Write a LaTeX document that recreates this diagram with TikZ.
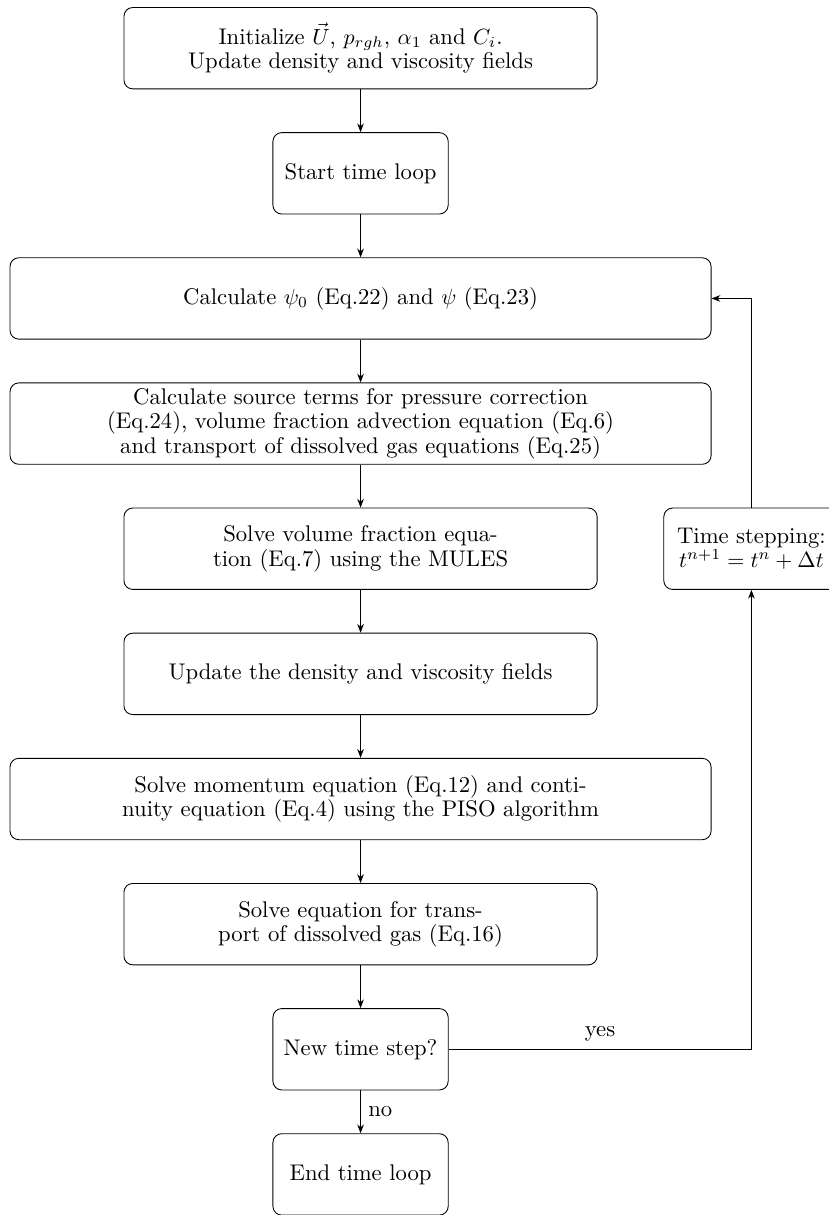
\documentclass[tikz,border=0pt]{standalone}
\usepackage{amsmath,amssymb}
\usepackage{tikz}
\usetikzlibrary{arrows.meta, positioning}

\begin{document}
\begin{tikzpicture}[
  node distance=0.685cm,
  box/.style={draw, rounded corners=4pt, minimum height=1.3cm,
              inner sep=2pt, align=center,
              font=\fontsize{10.3pt}{11.1pt}\selectfont},
  wide/.style={box, minimum width=11.2cm},
  mid/.style={box, minimum width=7.56cm},
  small/.style={box, minimum width=2.8cm},
  arr/.style={-{Stealth[length=4pt, width=3pt]}},
  label/.style={font=\fontsize{10.3pt}{11.1pt}\selectfont},
]
\useasboundingbox (0,0) rectangle (13.23,-19.41);

\node[mid] (init) at (5.76,-0.77)
  {Initialize $\vec{U}$, $p_{rgh}$, $\alpha_1$ and $C_i$.\\
   Update density and viscosity fields};
\node[small, below=of init] (start) {Start time loop};
\node[wide, below=of start] (psi)
  {Calculate $\psi_0$ (Eq.22) and $\psi$ (Eq.23)};
\node[wide, below=of psi] (src)
  {Calculate source terms for pressure correction\\
   (Eq.24), volume fraction advection equation (Eq.6)\\
   and transport of dissolved gas equations (Eq.25)};
\node[mid, below=of src] (mules)
  {Solve volume fraction equa-\\tion (Eq.7) using the MULES};
\node[mid, below=of mules] (dens)
  {Update the density and viscosity fields};
\node[wide, below=of dens] (piso)
  {Solve momentum equation (Eq.12) and conti-\\
   nuity equation (Eq.4) using the PISO algorithm};
\node[mid, below=of piso] (gas)
  {Solve equation for trans-\\port of dissolved gas (Eq.16)};
\node[small, below=of gas] (check) {New time step?};
\node[small, below=of check] (stop) {End time loop};

\node[small, right=1.05cm of mules] (tstep)
  {Time stepping:\\$t^{n+1} = t^{n} + \Delta t$};

\draw[arr] (init) -- (start);
\draw[arr] (start) -- (psi);
\draw[arr] (psi) -- (src);
\draw[arr] (src) -- (mules);
\draw[arr] (mules) -- (dens);
\draw[arr] (dens) -- (piso);
\draw[arr] (piso) -- (gas);
\draw[arr] (gas) -- (check);
\draw[arr] (check) -- node[label, right] {no} (stop);

% loop back
\draw[arr] (check.east) -| node[label, pos=0.25, above] {yes} (tstep.south);
\draw[arr] (tstep.north) |- (psi.east);
\end{tikzpicture}
\end{document}
